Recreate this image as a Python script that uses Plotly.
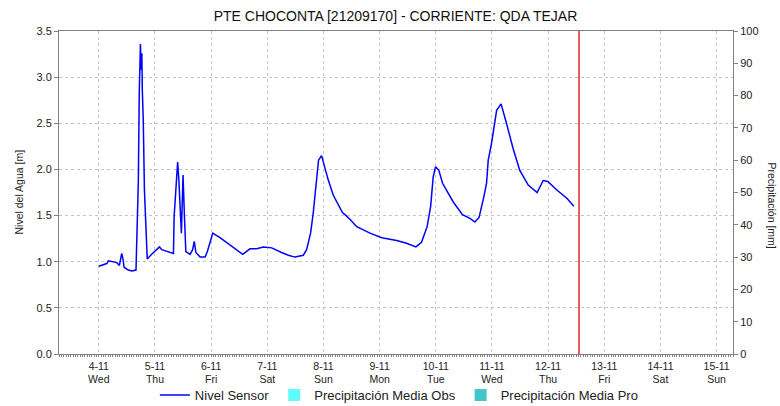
import pandas as pd
import plotly.graph_objects as go

# ---------------- data ----------------
base_time = "2020-11-04 00:00"
hours = [0, 3.4, 4.1, 7.7, 8.8, 9.4, 9.8, 10.4, 10.8, 12.6, 14.1, 15.9, 16.2, 16.9,
         17.3, 17.8, 18.1, 18.4, 18.6, 19.0, 19.5, 20.2, 20.7, 22.6, 25.9, 26.9, 28.3,
         31.9, 32.2, 32.7, 33.1, 33.7, 34.2, 34.6, 35.0, 35.3, 35.6, 36.0, 36.6, 37.2,
         39.0, 40.1, 40.8, 41.5, 43.3, 45.4, 46.4, 47.8, 48.7, 51.8, 57.5, 61.5, 64.6,
         67.5, 70.3, 73.9, 78.1, 81.0, 83.8, 87.4, 88.8, 90.5, 91.6, 92.8, 93.9, 95.2,
         96.2, 98.0, 100.2, 104.2, 105.2, 107.3, 110.2, 115.9, 120.9, 127.3, 131.5,
         135.5, 137.9, 140.3, 141.8, 142.9, 143.9, 145.3, 146.9, 151.4, 155.4, 158.6,
         160.7, 162.5, 164.5, 165.7, 166.4, 167.8, 170.0, 171.9, 174.2, 177.0, 179.9,
         183.5, 187.3, 189.9, 191.9, 195.6, 199.9, 203.0]
nivel = [0.95, 0.98, 1.01, 0.99, 0.96, 1.04, 1.09, 1.02, 0.94, 0.91, 0.90, 0.91, 1.13, 1.87,
         2.84, 3.36, 3.08, 3.26, 2.86, 2.54, 1.78, 1.20, 1.03, 1.08, 1.16, 1.13, 1.12,
         1.09, 1.49, 1.70, 1.96, 2.08, 1.89, 1.56, 1.47, 1.31, 1.54, 1.94, 1.49, 1.11,
         1.08, 1.13, 1.22, 1.10, 1.05, 1.05, 1.11, 1.25, 1.31, 1.26, 1.16, 1.08, 1.14,
         1.14, 1.16, 1.15, 1.10, 1.07, 1.05, 1.07, 1.13, 1.31, 1.52, 1.85, 2.10, 2.15,
         2.05, 1.89, 1.72, 1.53, 1.51, 1.46, 1.38, 1.31, 1.26, 1.23, 1.20,
         1.16, 1.21, 1.38, 1.60, 1.92, 2.03, 1.99, 1.85, 1.65, 1.51, 1.47,
         1.43, 1.48, 1.70, 1.85, 2.10, 2.28, 2.64, 2.71, 2.50, 2.23, 1.99,
         1.83, 1.75, 1.88, 1.87, 1.78, 1.69, 1.60]

day_ticks = ["2020-11-04", "2020-11-05", "2020-11-06", "2020-11-07", "2020-11-08",
             "2020-11-09", "2020-11-10", "2020-11-11", "2020-11-12", "2020-11-13",
             "2020-11-14", "2020-11-15"]
day_labels = ["4-11<br>Wed", "5-11<br>Thu", "6-11<br>Fri", "7-11<br>Sat", "8-11<br>Sun",
              "9-11<br>Mon", "10-11<br>Tue", "11-11<br>Wed", "12-11<br>Thu", "13-11<br>Fri",
              "14-11<br>Sat", "15-11<br>Sun"]
precip_obs = [0] * len(day_ticks)
precip_pro = [0] * len(day_ticks)

x_range = ["2020-11-03 07:00", "2020-11-15 07:00"]
now_marker = "2020-11-12 13:12"

title = "PTE CHOCONTA [21209170] - CORRIENTE: QDA TEJAR"
y_title = "Nivel del Agua [m]"
y2_title = "Precipitación [mm]"

# ---------------- figure ----------------
times = pd.Timestamp(base_time) + pd.to_timedelta(hours, unit="h")

FONT = "Liberation Sans, Arial, sans-serif"
fig = go.Figure()

fig.add_trace(go.Scatter(x=times, y=nivel, mode="lines", name="Nivel Sensor",
                         line=dict(color="#0000ff", width=1.5)))
fig.add_trace(go.Bar(x=day_ticks, y=precip_obs, name="Precipitación Media Obs",
                     marker=dict(color="#5ffcfc", line=dict(width=0)), yaxis="y2"))
fig.add_trace(go.Bar(x=day_ticks, y=precip_pro, name="Precipitación Media Pro",
                     marker=dict(color="#40c8c8", line=dict(width=0)), yaxis="y2"))

fig.add_shape(type="line", xref="x", yref="paper", x0=now_marker, x1=now_marker,
              y0=0, y1=1, line=dict(color="#e8281e", width=1.5))

PW, PH = 674, 323
grid = "#c4c4c4"
axis_col = "#808080"
fig.update_layout(
    width=780, height=406,
    margin=dict(l=59, r=47, t=31, b=52, autoexpand=False),
    paper_bgcolor="white", plot_bgcolor="white",
    font=dict(family=FONT, size=11, color="#222222"),
    title=dict(text=title, x=0.507, xanchor="center", y=0.9606, yanchor="middle",
               font=dict(size=14, color="#111111")),
    showlegend=True,
    legend=dict(orientation="h", x=0.505, xanchor="center", y=-41 / PH,
                yanchor="middle", bgcolor="rgba(0,0,0,0)",
                font=dict(size=13, color="#222222"), itemwidth=30, tracegroupgap=0),
    bargap=0.5,
    xaxis=dict(type="date", range=x_range, tickvals=day_ticks, ticktext=day_labels,
               showgrid=True, gridcolor=grid, griddash="dot", gridwidth=1,
               showline=True, linecolor=axis_col, linewidth=1, mirror=True,
               ticks="outside", ticklen=2, tickcolor=axis_col, automargin=False,
               minor=dict(dtick=3600000, ticks="outside", ticklen=2, tickcolor="#808080",
                          showgrid=False),
               tickfont=dict(size=10.5, color="#222222"), zeroline=False),
    yaxis=dict(range=[0, 3.5], dtick=0.5, tickformat=".1f", automargin=False,
               showgrid=True, gridcolor=grid, griddash="dot", gridwidth=1,
               showline=True, linecolor=axis_col, linewidth=1,
               ticks="outside", ticklen=4, tickcolor=axis_col,
               zeroline=False, tickfont=dict(size=11, color="#222222")),
    yaxis2=dict(range=[0, 100], dtick=10, overlaying="y", side="right", automargin=False,
                showgrid=False, showline=True, linecolor=axis_col, linewidth=1,
                ticks="outside", ticklen=4, tickcolor=axis_col, zeroline=False,
                tickfont=dict(size=11, color="#222222")),
)

fig.add_annotation(text=y_title, xref="paper", yref="paper",
                   x=-41 / PW, y=0.5, xanchor="center", yanchor="middle",
                   textangle=-90, showarrow=False,
                   font=dict(family=FONT, size=10.5, color="#222222"))
fig.add_annotation(text=y2_title, xref="paper", yref="paper",
                   x=1.0 + 39 / PW, y=0.46, xanchor="center", yanchor="middle",
                   textangle=90, showarrow=False,
                   font=dict(family=FONT, size=10.5, color="#222222"))

fig.write_html("out.html", config={"displayModeBar": False},
               post_script="document.body.style.margin='0';document.body.style.padding='0';")
